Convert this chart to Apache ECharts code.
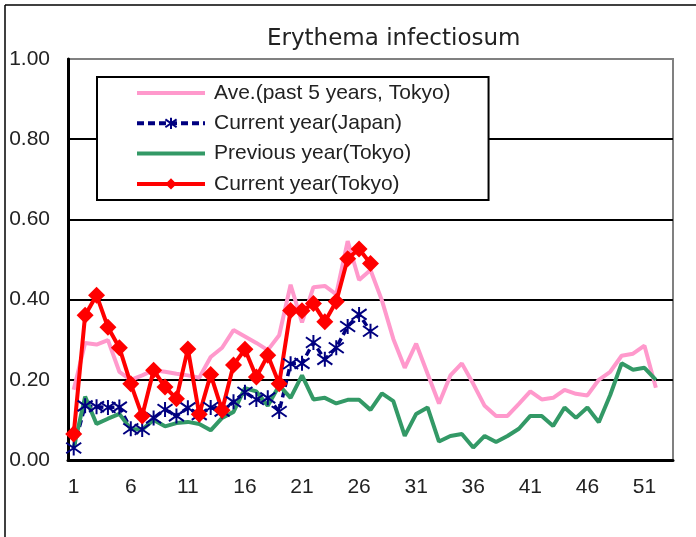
<!DOCTYPE html>
<html>
<head>
<meta charset="utf-8">
<script src="https://cdn.jsdelivr.net/npm/echarts@6/dist/echarts.min.js"></script>
<style>
  html, body { margin: 0; padding: 0; background: #fff; }
  #main { width: 696px; height: 537px; }
</style>
</head>
<body>
<div id="main"></div>
<script>
// 週 1..53
var weeks = [];
for (var i = 1; i <= 53; i++) weeks.push(String(i));

// 過去5年平均（東京）
var avePast5 = [0.175, 0.292, 0.288, 0.299, 0.22, 0.2, 0.211, 0.224, 0.22, 0.215,
  0.211, 0.205, 0.257, 0.28, 0.324, 0.308, 0.292, 0.274, 0.311, 0.437,
  0.343, 0.431, 0.434, 0.413, 0.546, 0.449, 0.474, 0.398, 0.302, 0.23,
  0.29, 0.215, 0.141, 0.211, 0.241, 0.19, 0.135, 0.11, 0.11, 0.14,
  0.171, 0.151, 0.155, 0.175, 0.165, 0.161, 0.2, 0.22, 0.26, 0.265,
  0.285, 0.18];

// 今年（全国）
var currentJapan = [0.03, 0.135, 0.133, 0.131, 0.132, 0.078, 0.076, 0.105, 0.126, 0.11,
  0.13, 0.113, 0.131, 0.122, 0.145, 0.169, 0.151, 0.155, 0.121, 0.24,
  0.241, 0.293, 0.251, 0.28, 0.333, 0.363, 0.321];

// 前年（東京）
var previousTokyo = [0.03, 0.158, 0.09, 0.103, 0.115, 0.077, 0.076, 0.1, 0.084, 0.092,
  0.095, 0.09, 0.074, 0.105, 0.12, 0.179, 0.171, 0.135, 0.186, 0.155,
  0.211, 0.151, 0.155, 0.141, 0.15, 0.15, 0.125, 0.166, 0.147, 0.06,
  0.115, 0.131, 0.046, 0.06, 0.065, 0.031, 0.06, 0.045, 0.06, 0.078,
  0.11, 0.11, 0.085, 0.131, 0.105, 0.131, 0.094, 0.162, 0.241, 0.225,
  0.23, 0.2];

// 今年（東京）
var currentTokyo = [0.065, 0.361, 0.411, 0.331, 0.28, 0.19, 0.11, 0.224, 0.182, 0.153,
  0.277, 0.114, 0.213, 0.124, 0.237, 0.276, 0.207, 0.261, 0.19, 0.373,
  0.372, 0.39, 0.345, 0.395, 0.502, 0.526, 0.49];

var seriesNames = ['Ave.(past 5 years, Tokyo)', 'Current year(Japan)', 'Previous year(Tokyo)', 'Current year(Tokyo)'];

var labelFont = 'Liberation Sans';
var asterisk = 'path://M5,0 L5,10 M0.6,1.5 L9.4,8.5 M0.6,8.5 L9.4,1.5';

var myChart = echarts.init(document.getElementById('main'), null, { renderer: 'canvas' });
myChart.setOption({
  backgroundColor: '#fff',
  animation: false,
  // 外枠（上と左だけ見える）
  graphic: [
    { type: 'line', shape: { x1: 5, y1: 5, x2: 696, y2: 5 }, style: { stroke: '#000', lineWidth: 1.5 }, silent: true },
    { type: 'line', shape: { x1: 5, y1: 5, x2: 5, y2: 537 }, style: { stroke: '#000', lineWidth: 1.5 }, silent: true }
  ],
  title: {
    text: 'Erythema infectiosum',
    left: 262,
    top: 23,
    textStyle: { fontFamily: 'DejaVu Sans', fontSize: 23, fontWeight: 'normal', color: '#222' }
  },
  legend: {
    data: [
      { name: seriesNames[0], itemStyle: { opacity: 0 }, lineStyle: { width: 4 } },
      { name: seriesNames[1], lineStyle: { width: 4 } },
      { name: seriesNames[2], itemStyle: { opacity: 0 }, lineStyle: { width: 4 } },
      { name: seriesNames[3], lineStyle: { width: 4 } }
    ],
    orient: 'vertical',
    left: 97,
    top: 77,
    padding: [5, 38, 5, 38],
    itemWidth: 68,
    itemHeight: 14,
    itemGap: 8.3,
    borderColor: '#000',
    borderWidth: 2,
    backgroundColor: '#fff',
    textStyle: { fontFamily: labelFont, fontSize: 21, color: '#222', lineHeight: 22, padding: [0, 0, 0, 4] }
  },
  grid: {
    left: 68, right: 23, top: 59, bottom: 77,
    show: true, borderColor: '#808080', borderWidth: 2, backgroundColor: '#fff'
  },
  xAxis: {
    type: 'category',
    data: weeks,
    boundaryGap: true,
    axisLine: { lineStyle: { color: '#000', width: 3 } },
    axisTick: { interval: 4, inside: true, length: 6, lineStyle: { color: '#000', width: 2 } },
    axisLabel: { interval: 4, margin: 17, fontFamily: labelFont, fontSize: 21, color: '#222' },
    splitLine: { show: false }
  },
  yAxis: {
    type: 'value',
    min: 0, max: 1, interval: 0.2,
    axisLine: { show: true, lineStyle: { color: '#000', width: 3 } },
    axisTick: { show: false },
    axisLabel: {
      margin: 18, fontFamily: labelFont, fontSize: 21, color: '#222',
      formatter: function (v) { return v.toFixed(2); }
    },
    splitLine: { lineStyle: { color: ['#000', '#000', '#000', '#000', '#000', '#808080'], width: 2 } }
  },
  series: [
    {
      name: seriesNames[0], type: 'line', data: avePast5,
      symbol: 'none', color: '#FF99CC',
      lineStyle: { color: '#FF99CC', width: 4 }
    },
    {
      name: seriesNames[1], type: 'line', data: currentJapan,
      symbol: asterisk, symbolSize: 15, showAllSymbol: true, color: '#000080',
      itemStyle: { color: '#000080', borderColor: '#000080', borderWidth: 2 },
      lineStyle: { color: '#000080', width: 3.5, type: [7, 4] }
    },
    {
      name: seriesNames[2], type: 'line', data: previousTokyo,
      symbol: 'none', color: '#339966',
      lineStyle: { color: '#339966', width: 4 }
    },
    {
      name: seriesNames[3], type: 'line', data: currentTokyo,
      symbol: 'diamond', symbolSize: 17, showAllSymbol: true, color: '#FF0000',
      itemStyle: { color: '#FF0000' },
      lineStyle: { color: '#FF0000', width: 4 }
    }
  ]
});
</script>
</body>
</html>
